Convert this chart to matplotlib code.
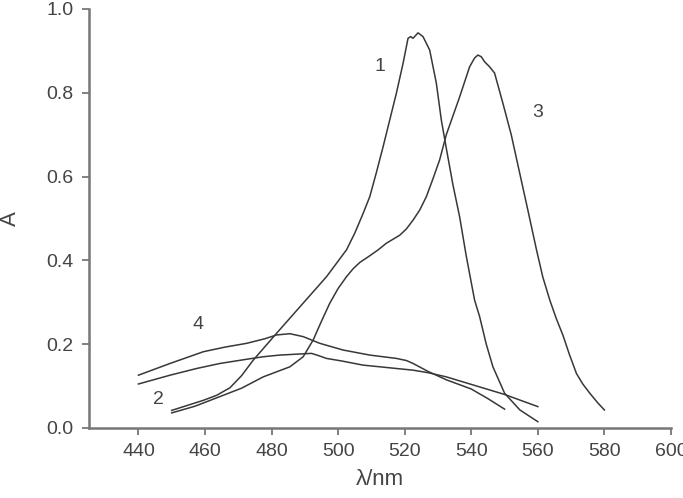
import matplotlib
matplotlib.use("Agg")
import matplotlib.pyplot as plt

plt.rcParams['font.family'] = ['Liberation Sans', 'DejaVu Sans']

# absorption spectra
wl_1 = [450, 459.5, 463.5, 467.5, 471, 474.5, 481.5, 489.5, 496.5, 502.5, 505, 507.5, 509.5, 511.5,
        513.5, 517.5, 519.5, 521, 521.8, 522.5, 524, 525.5, 527.5, 529.5, 531, 532.6, 534.5,
        536.5, 538.5, 541, 542.5, 544.5, 546.5, 550, 554.6, 560]
abs_1 = [0.042, 0.066, 0.078, 0.096, 0.125, 0.162, 0.226, 0.298, 0.361, 0.425, 0.465, 0.512, 0.552,
         0.61, 0.671, 0.799, 0.87, 0.93, 0.934, 0.93, 0.943, 0.934, 0.902, 0.823, 0.735, 0.663,
         0.58, 0.504, 0.41, 0.305, 0.266, 0.2, 0.146, 0.083, 0.043, 0.015]

wl_2 = [440, 449.5, 457.5, 464.5, 472.5, 477.5, 482.5, 489.5, 492, 494, 496.5, 501, 507.5, 515,
        522.5, 527, 532.5, 540, 550, 560]
abs_2 = [0.105, 0.126, 0.142, 0.154, 0.164, 0.17, 0.174, 0.177, 0.178, 0.173, 0.166, 0.16, 0.150,
         0.144, 0.138, 0.132, 0.122, 0.104, 0.08, 0.051]

wl_3 = [450, 457, 464.5, 471, 477.5, 485.5, 489.5, 492.5, 495, 497.5, 500, 502.5, 504.5, 506.5,
        509.5, 512, 514.5, 518.5, 520.5, 522.5, 524.5, 526.5, 528.5, 530.5, 532.5, 536.5, 539.5,
        541, 542, 543, 544, 545.5, 547, 549.5, 552, 554.5, 557, 559.6, 561.5, 563.6, 565.5,
        567.6, 569.5, 571.6, 573.5, 575.6, 578, 580]
abs_3 = [0.036, 0.052, 0.075, 0.095, 0.122, 0.146, 0.17, 0.21, 0.255, 0.298, 0.333, 0.361, 0.38,
         0.395, 0.411, 0.425, 0.441, 0.46, 0.475, 0.496, 0.52, 0.552, 0.595, 0.64, 0.7, 0.79,
         0.862, 0.883, 0.89, 0.886, 0.874, 0.862, 0.847, 0.775, 0.7, 0.61, 0.52, 0.425, 0.36,
         0.305, 0.262, 0.22, 0.175, 0.13, 0.105, 0.083, 0.06, 0.043]

wl_4 = [440, 449.5, 459.5, 466, 472.5, 478, 481.5, 485.5, 489.5, 494.5, 501.5, 509.5, 517.5,
        520.5, 522.5, 527, 532.5, 540, 545, 550]
abs_4 = [0.126, 0.154, 0.182, 0.193, 0.202, 0.213, 0.222, 0.225, 0.218, 0.202, 0.186, 0.174,
         0.166, 0.161, 0.154, 0.135, 0.115, 0.093, 0.07, 0.045]

curve_labels = ["1", "2", "3", "4"]
label_pos = [(512.6, 0.862), (446, 0.069), (560, 0.754), (458, 0.246)]

text_col = "#444444"
line_col = "#383838"

fig = plt.figure(figsize=(6.83, 4.98), dpi=100)
ax = fig.add_axes([0.1296, 0.1406, 0.8528, 0.8414])

for wl, a in [(wl_1, abs_1), (wl_2, abs_2), (wl_3, abs_3), (wl_4, abs_4)]:
    ax.plot(wl, a, color=line_col, lw=1.1)

for lab, (x, y) in zip(curve_labels, label_pos):
    ax.text(x, y, lab, fontsize=14, color=text_col, ha="center", va="center")

ax.set_xlim(425, 600)
ax.set_ylim(0, 1.0)
ax.set_xticks(range(440, 601, 20))
ax.set_yticks([0.0, 0.2, 0.4, 0.6, 0.8, 1.0])
ax.set_yticklabels(["0.0", "0.2", "0.4", "0.6", "0.8", "1.0"])

for side in ["top", "right"]:
    ax.spines[side].set_visible(False)
for side in ["left", "bottom"]:
    ax.spines[side].set_color("#777777")
    ax.spines[side].set_linewidth(1.8)

ax.tick_params(direction="out", length=5, width=1.3, color="#777777",
               labelsize=14, labelcolor=text_col, pad=6)
ax.set_xlabel("λ/nm", fontsize=16, color=text_col, labelpad=6)
ax.set_ylabel("A", fontsize=16, color=text_col, labelpad=18)

fig.savefig("out.png", dpi=100)
